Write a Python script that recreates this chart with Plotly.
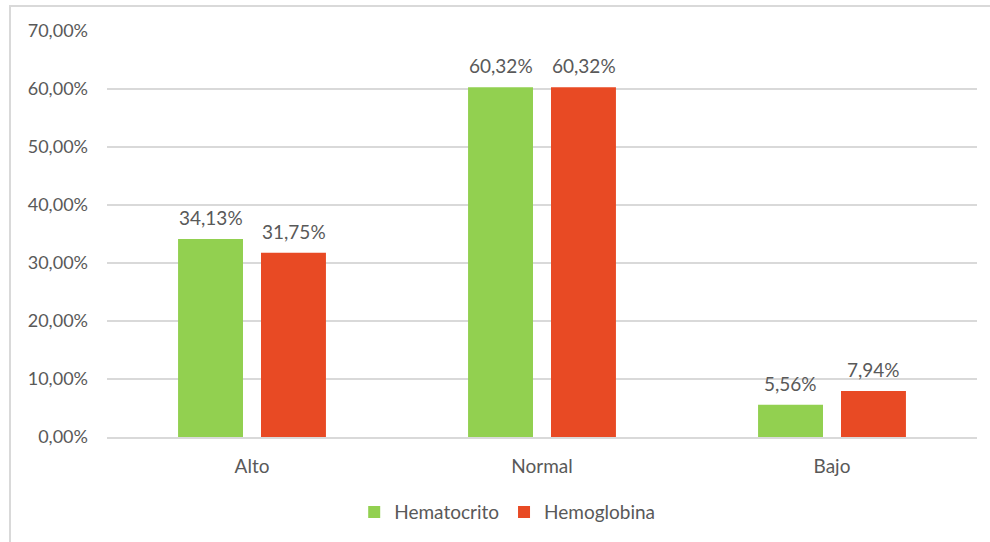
import plotly.graph_objects as go

categories = ["Alto", "Normal", "Bajo"]
hematocrito = [34.13, 60.32, 5.56]
hemoglobina = [31.75, 60.32, 7.94]
y_ticks = [0, 10, 20, 30, 40, 50, 60, 70]


def pct(v):
    return f"{v:.2f}".replace(".", ",") + "%"


font_family = "Lato, 'Open Sans', sans-serif"
text_color = "#595959"
grid_color = "#d9d9d9"
series = [
    ("Hematocrito", hematocrito, "#92D050", -41.5),
    ("Hemoglobina", hemoglobina, "#E84A24", 41.5),
]

fig = go.Figure()
annotations = []
for name, values, color, shift in series:
    fig.add_trace(go.Bar(name=name, x=categories, y=values,
                         marker=dict(color=color, line=dict(width=0))))
    for cat, v in zip(categories, values):
        annotations.append(dict(
            x=cat, y=v, xref="x", yref="y", text=pct(v), showarrow=False,
            xshift=shift, yshift=8, yanchor="bottom", xanchor="center",
            font=dict(size=19, color=text_color, family=font_family),
        ))

fig.update_layout(
    width=990, height=542,
    margin=dict(l=107, r=13, t=31, b=104),
    paper_bgcolor="white", plot_bgcolor="white",
    font=dict(family=font_family, size=19, color=text_color),
    barmode="group", bargap=0.428, bargroupgap=0.217,
    showlegend=True,
    legend=dict(orientation="h", x=0.46, xanchor="center", y=-0.182, yanchor="middle",
                font=dict(size=19, color=text_color), itemwidth=30,
                traceorder="normal"),
    xaxis=dict(showgrid=False, showline=True, linecolor=grid_color, linewidth=2,
               ticks="", ticklabelstandoff=11,
               tickfont=dict(size=19, color=text_color)),
    yaxis=dict(range=[0, 70], tickvals=y_ticks,
               ticktext=[pct(v) for v in y_ticks],
               showgrid=True, gridcolor=grid_color, gridwidth=2,
               zeroline=False, showline=False, ticks="",
               ticklabelstandoff=18,
               tickfont=dict(size=18, color=text_color)),
    annotations=annotations,
    shapes=[dict(type="rect", xref="paper", yref="paper",
                 x0=-0.1115, x1=1.2, y0=-0.4, y1=1.0614,
                 line=dict(color=grid_color, width=2), layer="below")],
)

fig.write_html("out.html")
